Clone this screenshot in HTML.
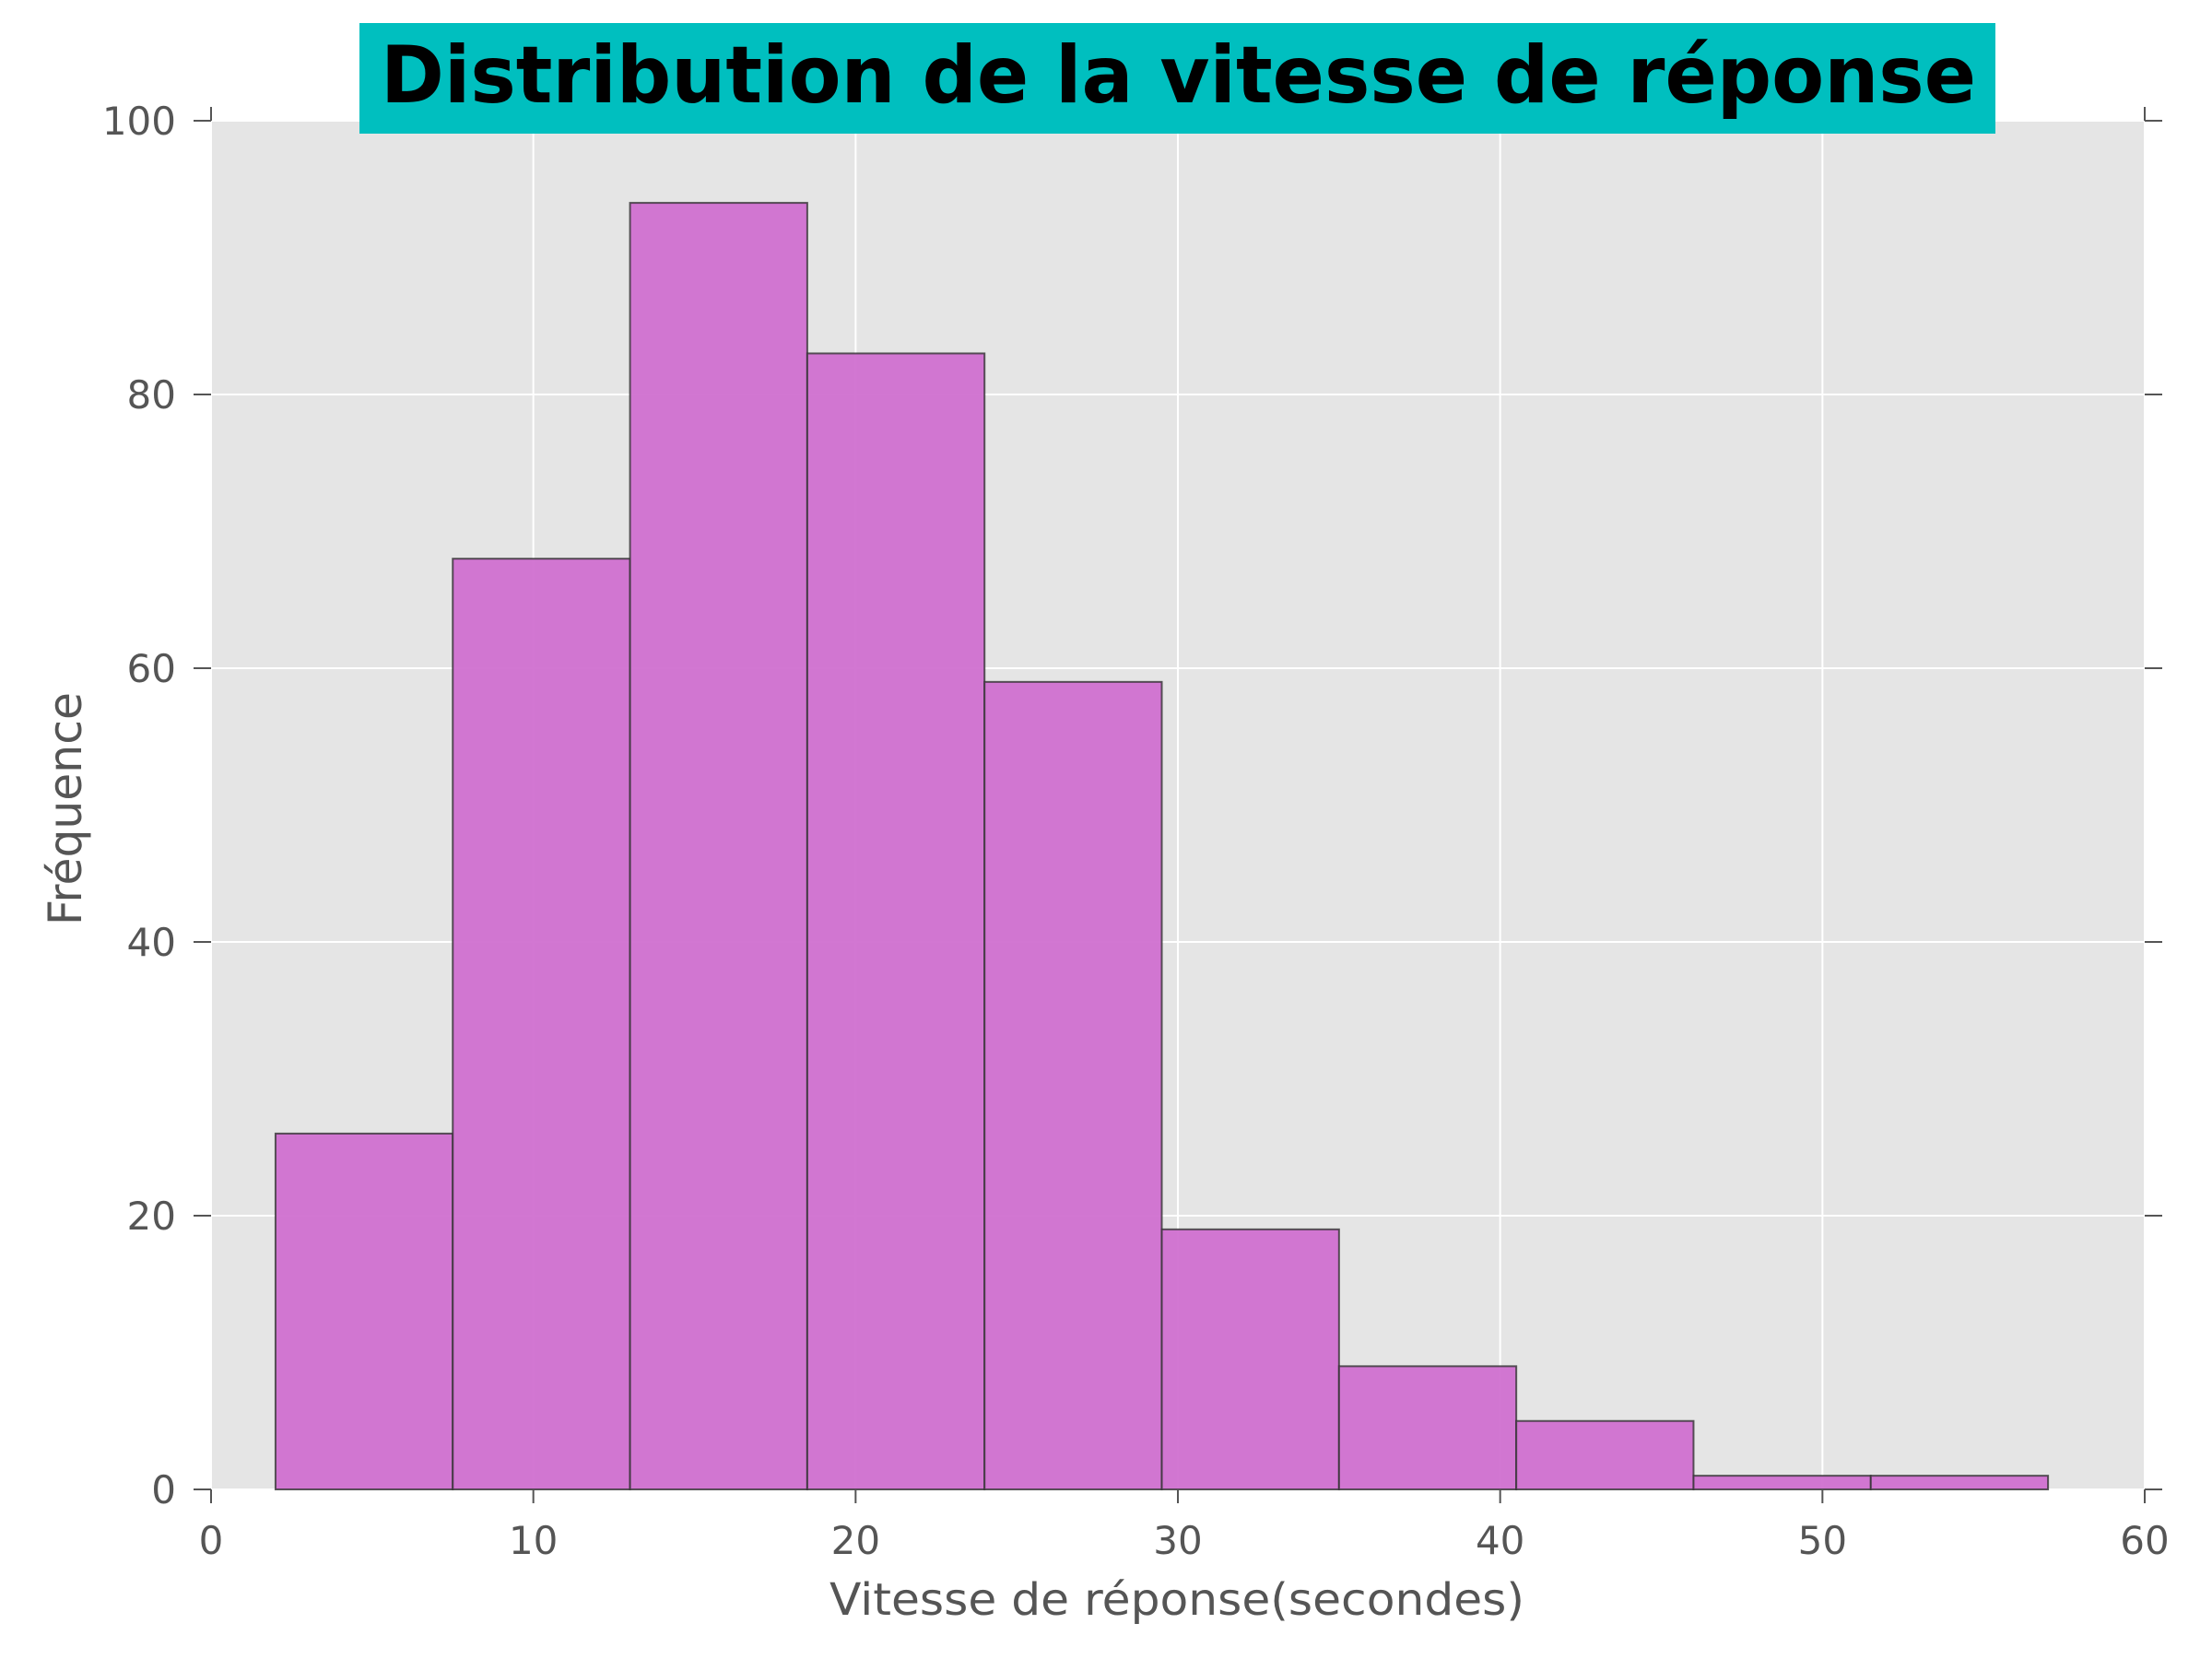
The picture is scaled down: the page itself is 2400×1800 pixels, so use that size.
<!DOCTYPE html>
<html><head><meta charset="utf-8"><style>html,body{margin:0;padding:0;background:#fff}svg{display:block}</style></head>
<body>
<svg id="chart" width="2400" height="1800" xmlns="http://www.w3.org/2000/svg" font-family="'DejaVu Sans','Liberation Sans',sans-serif">
<rect x="229" y="131" width="2098" height="1485" fill="#e5e5e5"/>
<g id="grid"></g>
<g id="bars"></g>
<g id="ticks"></g>
<rect x="390" y="25" width="1775" height="120" fill="#00bfbf"/>
<text x="413" y="111" font-size="86" font-weight="bold" fill="#000" textLength="1731" lengthAdjust="spacingAndGlyphs">Distribution de la vitesse de réponse</text>
<text x="900" y="1752" font-size="48" fill="#555" textLength="754" lengthAdjust="spacingAndGlyphs">Vitesse de réponse(secondes)</text>
<text transform="translate(88,1004) rotate(-90)" font-size="50" fill="#555" textLength="253" lengthAdjust="spacingAndGlyphs">Fréquence</text>
</svg>
<script>
const binStart = 2.0;
const binWidth = 5.5;
const counts = [26, 68, 94, 83, 59, 19, 9, 5, 1, 1];
const xTicks = [0, 10, 20, 30, 40, 50, 60];
const yTicks = [0, 20, 40, 60, 80, 100];
const X0 = 229, X1 = 2327, Y0 = 1616, Y1 = 131;
const xs = v => X0 + (v - 0) / 60 * (X1 - X0);
const ys = v => Y0 - v / 100 * (Y0 - Y1);
const NS = 'http://www.w3.org/2000/svg';
function mk(tag, attrs, parent) { const e = document.createElementNS(NS, tag); for (const k in attrs) e.setAttribute(k, attrs[k]); parent.appendChild(e); return e; }
const grid = document.getElementById('grid'), bars = document.getElementById('bars'), ticks = document.getElementById('ticks');
xTicks.forEach(t => {
  const l = mk('line', {x1: xs(t), x2: xs(t), y1: Y1, y2: Y0, stroke: '#fff', 'stroke-width': 2}, grid);
  
  
  const tb = mk('line', {x1: xs(t), x2: xs(t), y1: Y0, y2: Y0 + 15, stroke: '#555', 'stroke-width': 2}, ticks);
  
  
  const tt = mk('line', {x1: xs(t), x2: xs(t), y1: Y1, y2: Y1 - 15, stroke: '#555', 'stroke-width': 2}, ticks);
  
  
  const lab = mk('text', {x: xs(t), y: 1686, 'font-size': 42, fill: '#555', 'text-anchor': 'middle'}, ticks);
  lab.textContent = t;
  
  
});
yTicks.forEach(t => {
  const l = mk('line', {x1: X0, x2: X1, y1: ys(t), y2: ys(t), stroke: '#fff', 'stroke-width': 2}, grid);
  
  
  const tl = mk('line', {x1: X0 - 19, x2: X0, y1: ys(t), y2: ys(t), stroke: '#555', 'stroke-width': 2}, ticks);
  
  
  const tr = mk('line', {x1: X1, x2: X1 + 19, y1: ys(t), y2: ys(t), stroke: '#555', 'stroke-width': 2}, ticks);
  
  
  const lab = mk('text', {x: 191, y: ys(t) + 15, 'font-size': 42, fill: '#555', 'text-anchor': 'end'}, ticks);
  lab.textContent = t;
  
  
});
counts.forEach((c, i) => {
  const a = binStart + i * binWidth, b = a + binWidth;
  const r = mk('rect', {x: xs(a), y: ys(c), width: xs(b) - xs(a), height: ys(0) - ys(c), fill: '#d070d0', 'fill-opacity': 0.95, stroke: '#333', 'stroke-opacity': 0.8, 'stroke-width': 2}, bars);
  
  
});
</script>
</body></html>
